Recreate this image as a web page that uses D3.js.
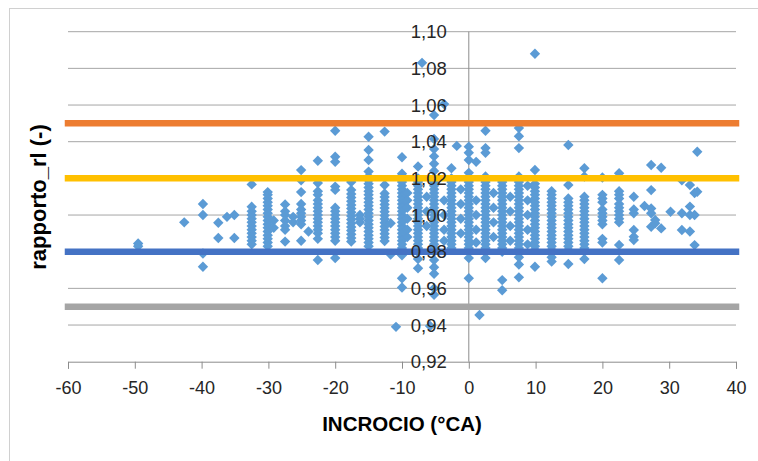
<!DOCTYPE html>
<html>
<head>
<meta charset="utf-8">
<script src="https://cdn.jsdelivr.net/npm/d3@7"></script>
<style>
  html, body { margin: 0; padding: 0; background: #ffffff; }
  svg { display: block; }
</style>
</head>
<body>
<svg id="chart" width="758" height="461"></svg>
<script>
// ---------------- data ----------------
const xTicks = [-60, -50, -40, -30, -20, -10, 0, 10, 20, 30, 40];
const yTicks = [0.92, 0.94, 0.96, 0.98, 1.00, 1.02, 1.04, 1.06, 1.08, 1.10];
const xTitle = "INCROCIO (°CA)";
const yTitle = "rapporto_rl (-)";

const limitValues = [1.05, 1.02, 0.98, 0.95];

// x position of each column of measurements
const colX = [
  -49.5, -42.6, -39.8, -37.5, -36.2, -35.1, -32.5, -30.1, -29.2, -27.5,
  -26.3, -25.1, -24.0, -22.6, -20.0, -17.6, -16.3, -15.0, -12.6, -11.7,
  -10.9, -10.0, -9.2, -7.6, -7.0, -6.3, -5.8, -5.2, -3.7, -2.6,
  -1.8, -1.2, 0.0, 1.1, 1.6, 2.5, 3.7, 5.0, 6.2, 7.5,
  8.8, 9.9, 12.4, 14.9, 17.3, 20.0, 22.5, 24.7, 26.3, 27.3,
  27.9, 28.8, 30.2, 31.9, 33.1, 33.8, 34.2
];
// rapporto_rl values for each column
const colY = [
  [0.9845, 0.9830],
  [0.9960],
  [1.0060, 1.0000, 0.9790, 0.9718],
  [0.9958, 0.9875],
  [0.9990],
  [1.0000, 0.9875],
  [1.0167, 1.0045, 1.0020, 1.0000, 0.9980, 0.9960, 0.9940, 0.9920, 0.9900, 0.9880, 0.9860, 0.9840],
  [1.0125, 1.0110, 1.0090, 1.0070, 1.0050, 1.0030, 1.0010, 0.9990, 0.9970, 0.9950, 0.9930, 0.9910, 0.9890, 0.9870, 0.9850, 0.9830],
  [0.9970, 0.9930],
  [1.0058, 1.0020, 1.0000, 0.9970, 0.9940, 0.9920, 0.9855],
  [0.9990, 0.9960],
  [1.0245, 1.0190, 1.0125, 1.0060, 1.0030, 1.0010, 0.9990, 0.9970, 0.9950, 0.9860],
  [0.9910],
  [1.0296, 1.0175, 1.0130, 1.0110, 1.0080, 1.0060, 1.0040, 1.0020, 1.0000, 0.9980, 0.9960, 0.9940, 0.9920, 0.9900, 0.9870, 0.9755],
  [1.0460, 1.0318, 1.0290, 1.0155, 1.0137, 1.0040, 1.0020, 1.0000, 0.9980, 0.9960, 0.9940, 0.9920, 0.9900, 0.9880, 0.9860, 0.9765],
  [1.0180, 1.0137, 1.0115, 1.0095, 1.0075, 1.0055, 1.0035, 1.0015, 0.9995, 0.9975, 0.9955, 0.9935, 0.9915, 0.9895, 0.9875, 0.9855],
  [1.0000, 0.9980, 0.9960],
  [1.0427, 1.0355, 1.0300, 1.0237, 1.0210, 1.0190, 1.0170, 1.0150, 1.0130, 1.0110, 1.0090, 1.0070, 1.0050, 1.0030, 1.0010, 0.9990, 0.9970, 0.9950, 0.9930, 0.9910, 0.9890, 0.9870, 0.9850, 0.9830],
  [1.0455, 1.0164, 1.0118, 1.0098, 1.0078, 1.0058, 1.0038, 1.0018, 0.9998, 0.9978, 0.9958, 0.9938, 0.9918, 0.9898, 0.9878, 0.9858],
  [0.9955, 0.9785],
  [0.9390],
  [1.0315, 1.0225, 1.0200, 1.0180, 1.0160, 1.0140, 1.0120, 1.0100, 1.0080, 1.0060, 1.0040, 1.0020, 1.0000, 0.9980, 0.9960, 0.9940, 0.9920, 0.9900, 0.9880, 0.9860, 0.9840, 0.9820, 0.9800, 0.9780, 0.9655, 0.9605],
  [1.0120, 1.0080, 1.0040, 0.9980, 0.9920, 0.9880],
  [1.0265, 1.0200, 1.0180, 1.0160, 1.0140, 1.0120, 1.0100, 1.0080, 1.0060, 1.0040, 1.0020, 1.0000, 0.9980, 0.9960, 0.9940, 0.9920, 0.9900, 0.9880, 0.9860, 0.9840, 0.9820, 0.9800, 0.9760, 0.9710],
  [1.0830],
  [1.0100, 1.0020, 0.9940],
  [0.9395],
  [1.0545, 1.0415, 1.0360, 1.0320, 1.0280, 1.0240, 1.0200, 1.0180, 1.0160, 1.0140, 1.0120, 1.0100, 1.0080, 1.0060, 1.0040, 1.0020, 1.0000, 0.9980, 0.9960, 0.9940, 0.9920, 0.9900, 0.9880, 0.9860, 0.9840, 0.9820, 0.9800, 0.9755, 0.9715, 0.9680, 0.9600, 0.9565],
  [1.0605, 1.0080, 1.0000, 0.9920, 0.9860],
  [1.0255, 1.0200, 1.0180, 1.0160, 1.0140, 1.0120, 1.0100, 1.0080, 1.0060, 1.0040, 1.0020, 1.0000, 0.9980, 0.9960, 0.9940, 0.9920, 0.9900, 0.9880, 0.9860, 0.9840, 0.9820],
  [1.0377],
  [1.0140, 1.0060, 0.9980, 0.9900],
  [1.0373, 1.0340, 1.0300, 1.0230, 1.0200, 1.0180, 1.0160, 1.0140, 1.0120, 1.0100, 1.0080, 1.0060, 1.0040, 1.0020, 1.0000, 0.9980, 0.9960, 0.9940, 0.9920, 0.9900, 0.9880, 0.9860, 0.9840, 0.9820, 0.9800, 0.9765, 0.9655],
  [1.0290, 1.0080, 1.0000, 0.9920, 0.9850],
  [0.9455],
  [1.0460, 1.0365, 1.0340, 1.0210, 1.0180, 1.0160, 1.0140, 1.0120, 1.0100, 1.0080, 1.0060, 1.0040, 1.0020, 1.0000, 0.9980, 0.9960, 0.9940, 0.9920, 0.9900, 0.9880, 0.9860, 0.9840, 0.9820, 0.9800, 0.9765],
  [1.0120, 1.0040, 0.9960, 0.9880],
  [1.0180, 1.0160, 1.0140, 1.0120, 1.0100, 1.0080, 1.0060, 1.0040, 1.0020, 1.0000, 0.9980, 0.9960, 0.9940, 0.9920, 0.9900, 0.9880, 0.9860, 0.9840, 0.9820, 0.9800, 0.9645, 0.9590],
  [1.0100, 1.0020, 0.9940, 0.9860],
  [1.0475, 1.0430, 1.0365, 1.0210, 1.0180, 1.0160, 1.0140, 1.0120, 1.0100, 1.0080, 1.0060, 1.0040, 1.0020, 1.0000, 0.9980, 0.9960, 0.9940, 0.9920, 0.9900, 0.9880, 0.9860, 0.9840, 0.9820, 0.9800, 0.9770, 0.9730, 0.9660],
  [1.0160, 1.0080, 1.0000, 0.9920, 0.9840],
  [1.0880, 1.0246, 1.0170, 1.0150, 1.0130, 1.0110, 1.0090, 1.0070, 1.0050, 1.0030, 1.0010, 0.9990, 0.9970, 0.9950, 0.9930, 0.9910, 0.9890, 0.9870, 0.9850, 0.9830, 0.9810, 0.9718],
  [1.0130, 1.0110, 1.0090, 1.0070, 1.0050, 1.0030, 1.0010, 0.9990, 0.9970, 0.9950, 0.9930, 0.9910, 0.9890, 0.9870, 0.9850, 0.9830, 0.9810, 0.9770, 0.9746],
  [1.0382, 1.0164, 1.0090, 1.0070, 1.0050, 1.0030, 1.0010, 0.9990, 0.9970, 0.9950, 0.9930, 0.9910, 0.9890, 0.9870, 0.9850, 0.9830, 0.9810, 0.9733],
  [1.0255, 1.0210, 1.0100, 1.0080, 1.0060, 1.0040, 1.0020, 1.0000, 0.9980, 0.9960, 0.9940, 0.9920, 0.9900, 0.9880, 0.9860, 0.9840, 0.9820, 0.9760],
  [1.0205, 1.0110, 1.0090, 1.0070, 1.0030, 1.0010, 0.9990, 0.9970, 0.9950, 0.9870, 0.9850, 0.9655],
  [1.0228, 1.0130, 1.0110, 1.0090, 1.0060, 1.0040, 1.0020, 1.0000, 0.9980, 0.9960, 0.9837, 0.9755],
  [1.0100, 1.0030, 1.0010, 0.9918, 0.9882, 0.9864],
  [1.0049],
  [1.0273, 1.0136, 1.0036, 1.0010, 0.9936],
  [0.9973, 0.9955],
  [1.0258, 0.9927],
  [1.0018],
  [1.0190, 1.0010, 0.9918],
  [1.0164, 1.0046, 1.0000, 0.9910],
  [1.0120, 1.0000, 0.9836],
  [1.0345, 1.0127]
];

// ---------------- styles ----------------
const limitColors = ["#ED7D31", "#FFC000", "#4472C4", "#A5A5A5"];
const markerColor = "#5B9BD5";
const gridColor = "#a6a6a6";
const axisColor = "#8c8c8c";
const textColor = "#262626";

// ---------------- layout ----------------
const svg = d3.select("#chart");
const x = d3.scaleLinear().domain([-60, 40]).range([68, 736]);
const y = d3.scaleLinear().domain([0.92, 1.10]).range([361.7, 31.7]);

// outer frame (left/top visible)
svg.append("rect")
  .attr("x", 9.5).attr("y", 8.5)
  .attr("width", 800).attr("height", 500)
  .attr("fill", "none").attr("stroke", "#d0d0d0").attr("stroke-width", 1);

// gridlines
svg.append("g")
  .selectAll("line")
  .data(yTicks.filter(v => v > 0.92))
  .join("line")
  .attr("x1", x(-60)).attr("x2", x(40))
  .attr("y1", d => y(d)).attr("y2", d => y(d))
  .attr("stroke", gridColor).attr("stroke-width", 1);

// x axis (bottom, at 0.92)
const xAxis = d3.axisBottom(x).tickValues(xTicks).tickSize(7).tickFormat(d => String(d));
const gx = svg.append("g").attr("transform", `translate(0,${y(0.92)})`).call(xAxis);
gx.select(".domain").attr("stroke", axisColor);
gx.selectAll(".tick line").attr("stroke", axisColor);
gx.selectAll(".tick text")
  .attr("y", 26).attr("dy", "0.35em")
  .attr("fill", textColor)
  .style("font-family", "'Liberation Sans', Arial, sans-serif")
  .style("font-size", "18px");

// vertical axis at x = 0
svg.append("line")
  .attr("x1", x(0)).attr("x2", x(0))
  .attr("y1", y(1.10)).attr("y2", y(0.92))
  .attr("stroke", axisColor).attr("stroke-width", 1);

// points
const diamond = "M0,-5.2L5.2,0L0,5.2L-5.2,0Z";
const pts = [];
colX.forEach((cx, i) => colY[i].forEach(v => pts.push([cx, v])));
svg.append("g")
  .selectAll("path")
  .data(pts)
  .join("path")
  .attr("d", diamond)
  .attr("transform", d => `translate(${x(d[0])},${y(d[1])})`)
  .attr("fill", markerColor);

// limit lines
svg.append("g")
  .selectAll("line")
  .data(limitValues)
  .join("line")
  .attr("x1", x(-60)).attr("x2", x(40))
  .attr("y1", d => y(d)).attr("y2", d => y(d))
  .attr("stroke", (d, i) => limitColors[i])
  .attr("stroke-width", 6.5)
  .attr("stroke-linecap", "square");

// y tick labels (drawn beside the axis at x = 0)
const fmt = d3.format(".2f");
svg.append("g")
  .selectAll("text")
  .data(yTicks)
  .join("text")
  .attr("x", x(0) - 22)
  .attr("y", d => y(d))
  .attr("dy", "0.35em")
  .attr("text-anchor", "end")
  .attr("fill", textColor)
  .style("font-family", "'Liberation Sans', Arial, sans-serif")
  .style("font-size", "18.5px")
  .text(d => fmt(d).replace(".", ","));

// axis titles
svg.append("text")
  .attr("x", (x(-60) + x(40)) / 2)
  .attr("y", 424)
  .attr("dy", "0.35em")
  .attr("text-anchor", "middle")
  .attr("fill", "#000")
  .style("font-family", "'Liberation Sans', Arial, sans-serif")
  .style("font-weight", "bold")
  .style("font-size", "20.5px")
  .text(xTitle);

svg.append("text")
  .attr("transform", `translate(38,197) rotate(-90)`)
  .attr("dy", "0.35em")
  .attr("text-anchor", "middle")
  .attr("fill", "#000")
  .style("font-family", "'Liberation Sans', Arial, sans-serif")
  .style("font-weight", "bold")
  .style("font-size", "22px")
  .text(yTitle);
</script>
</body>
</html>
